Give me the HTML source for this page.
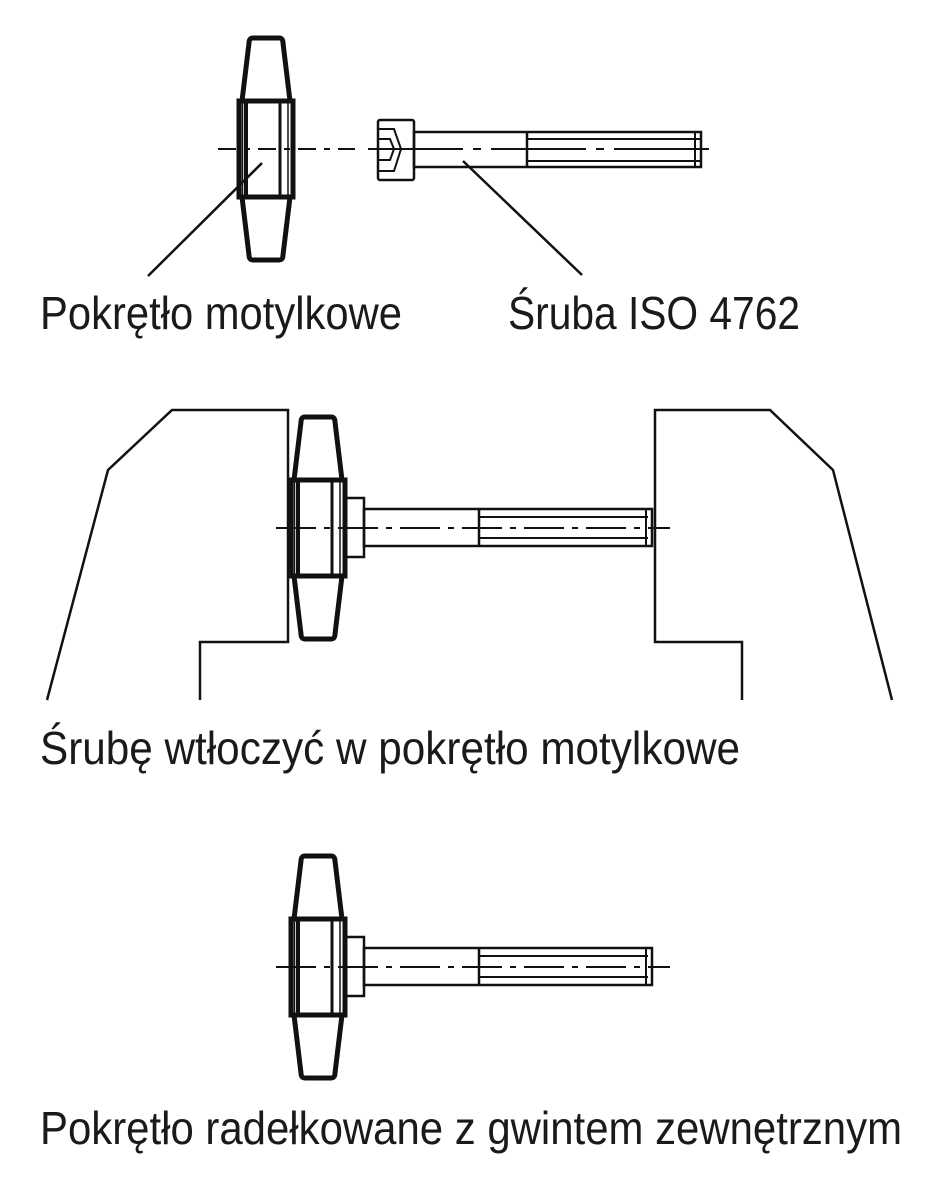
<!DOCTYPE html>
<html><head><meta charset="utf-8"><style>body{margin:0;background:#fff}svg{display:block}</style></head><body>
<svg width="940" height="1200" viewBox="0 0 940 1200" xmlns="http://www.w3.org/2000/svg">
<defs>
<g id="knob">
  <!-- knob centered at x=0, centerline y=0 -->
  <path d="M-13,-111 L13,-111 Q17,-111 17,-106 L24,-48 L-24,-48 L-17,-106 Q-17,-111 -13,-111 Z" fill="none" stroke="#111" stroke-width="5" stroke-linejoin="round"/>
  <path d="M-13,111 L13,111 Q17,111 17,106 L24,48 L-24,48 L-17,106 Q-17,111 -13,111 Z" fill="none" stroke="#111" stroke-width="5" stroke-linejoin="round"/>
  <rect x="-27" y="-48" width="54" height="96" fill="none" stroke="#111" stroke-width="5"/>
  <line x1="-20" y1="-48" x2="-20" y2="48" stroke="#111" stroke-width="4"/>
  <line x1="14" y1="-48" x2="14" y2="48" stroke="#111" stroke-width="3"/>
  <line x1="-23.5" y1="-48" x2="-23.5" y2="48" stroke="#111" stroke-width="1.5"/>
  <line x1="22" y1="-48" x2="22" y2="48" stroke="#111" stroke-width="1.5"/>
</g>
<g id="assy">
  <!-- centerline y=0 -->
  <use href="#knob" x="318" y="0"/>
  <rect x="346" y="-30" width="18" height="59" fill="none" stroke="#111" stroke-width="2.5"/>
  <rect x="364" y="-19" width="288" height="37" fill="none" stroke="#111" stroke-width="2.5"/>
  <line x1="479" y1="-19" x2="479" y2="18" stroke="#111" stroke-width="2.5"/>
  <line x1="479" y1="-11" x2="648" y2="-11" stroke="#111" stroke-width="2"/>
  <line x1="479" y1="10" x2="648" y2="10" stroke="#111" stroke-width="2"/>
  <line x1="646" y1="-19" x2="646" y2="18" stroke="#111" stroke-width="2"/>
  <line x1="276" y1="0" x2="670" y2="0" stroke="#111" stroke-width="2" stroke-dasharray="40,8,6,8"/>
</g>
</defs>
<!-- Top -->
<use href="#knob" x="266" y="149"/>
<line x1="218" y1="149" x2="355" y2="149" stroke="#111" stroke-width="2" stroke-dasharray="18,8,6,8"/>
<rect x="378" y="120" width="36" height="60" rx="2" fill="none" stroke="#111" stroke-width="2.5"/>
<path d="M378,129 L394,129 L401,149 L394,171 L378,171 M378,139 L390,139 L394,149 L390,160 L378,160" fill="none" stroke="#111" stroke-width="2"/>
<rect x="414" y="132" width="287" height="35" fill="none" stroke="#111" stroke-width="2.5"/>
<line x1="527" y1="132" x2="527" y2="167" stroke="#111" stroke-width="2.5"/>
<line x1="527" y1="139" x2="700" y2="139" stroke="#111" stroke-width="2"/>
<line x1="527" y1="161" x2="700" y2="161" stroke="#111" stroke-width="2"/>
<line x1="695" y1="132" x2="695" y2="167" stroke="#111" stroke-width="2"/>
<line x1="368" y1="149" x2="716" y2="149" stroke="#111" stroke-width="2" stroke-dasharray="95,10,8,10"/>
<line x1="262" y1="163" x2="148" y2="276" stroke="#111" stroke-width="2.5"/>
<line x1="463" y1="161" x2="582" y2="275" stroke="#111" stroke-width="2.5"/>
<g font-family="'Liberation Sans', sans-serif" font-size="46" fill="#1a1a1a">
<text x="40" y="329" textLength="362" lengthAdjust="spacingAndGlyphs">Pokrętło motylkowe</text>
<text x="508" y="329" textLength="292" lengthAdjust="spacingAndGlyphs">Śruba ISO 4762</text>
<text x="40" y="764" textLength="700" lengthAdjust="spacingAndGlyphs">Śrubę wtłoczyć w pokrętło motylkowe</text>
<text x="40" y="1144" textLength="862" lengthAdjust="spacingAndGlyphs">Pokrętło radełkowane z gwintem zewnętrznym</text>
</g>
<!-- Middle -->
<polyline points="47,700 108,470 172,410 288,410 288,642 200,642 200,700" fill="none" stroke="#111" stroke-width="2.5"/>
<polyline points="892,700 833,470 770,410 655,410 655,642 742,642 742,700" fill="none" stroke="#111" stroke-width="2.5"/>
<use href="#assy" x="0" y="528"/>
<!-- Bottom -->
<use href="#assy" x="0" y="967"/>
</svg>
</body></html>
